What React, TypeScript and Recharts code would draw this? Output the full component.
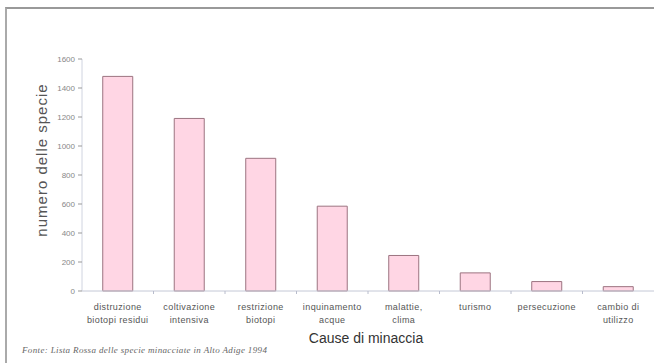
import React from 'react';
import { BarChart, Bar, XAxis, YAxis } from 'recharts';

const categories = [
  'distruzione\nbiotopi residui',
  'coltivazione\nintensiva',
  'restrizione\nbiotopi',
  'inquinamento\nacque',
  'malattie,\nclima',
  'turismo',
  'persecuzione',
  'cambio di\nutilizzo',
];
const specie = [1480, 1190, 915, 585, 245, 125, 65, 30];
const yTicks = [0, 200, 400, 600, 800, 1000, 1200, 1400, 1600];

const data = categories.map((name, i) => ({ name, value: specie[i] }));

const FONT = '"Liberation Sans", Arial, sans-serif';

function CategoryTick(props: any) {
  const { x, y, payload } = props;
  const lines = String(payload.value).split('\n');
  const half = payload.offset || 0;
  return (
    <g>
      {payload.index > 0 && (
        <line x1={x - half} x2={x - half} y1={y} y2={y + 3} stroke="#b8bccc" />
      )}
      <text
        x={x}
        y={y + 19}
        textAnchor="middle"
        fill="#555"
        fontSize={9}
        fontFamily={FONT}
        letterSpacing={0.4}
      >
        {lines.map((l, i) => (
          <tspan key={i} x={x} dy={i === 0 ? 0 : 13}>
            {l}
          </tspan>
        ))}
      </text>
    </g>
  );
}

export default function App() {
  return (
    <div style={{ position: 'absolute', left: 0, top: 0, width: 654, height: 363, background: '#fff' }}>
      <div
        style={{
          position: 'absolute',
          left: 5,
          top: 7,
          width: 660,
          height: 370,
          borderTop: '2px solid #999',
          borderLeft: '2px solid #aaa',
        }}
      />
      <BarChart
        width={654}
        height={363}
        data={data}
        margin={{ top: 59, right: 0, bottom: 0, left: 0 }}
        barCategoryGap="29%"
      >
        <XAxis
          dataKey="name"
          height={72}
          axisLine={{ stroke: '#c4c8d6' }}
          tickLine={false}
          tickSize={0}
          tickMargin={0}
          interval={0}
          tick={<CategoryTick />}
          label={{
            value: 'Cause di minaccia',
            position: 'center',
            dx: -2,
            dy: 11,
            fill: '#333',
            fontSize: 14,
            fontFamily: FONT,
          }}
        />
        <YAxis
          width={82}
          domain={[0, 1600]}
          ticks={yTicks}
          interval={0}
          axisLine={{ stroke: '#d0d4e0' }}
          tickLine={{ stroke: '#999' }}
          tickSize={4}
          tickMargin={3}
          tick={{ fill: '#888', fontSize: 8, fontFamily: FONT }}
          label={{
            value: 'numero delle specie',
            angle: -90,
            position: 'center',
            dx: 1,
            dy: -15,
            fill: '#555',
            fontSize: 15,
            letterSpacing: 1,
            fontFamily: FONT,
          }}
        />
        <Bar dataKey="value" fill="#ffd6e4" stroke="#9c7480" strokeWidth={1} isAnimationActive={false} />
      </BarChart>
      <div
        style={{
          position: 'absolute',
          left: 22,
          top: 345,
          fontFamily: '"Liberation Serif", "Times New Roman", serif',
          fontStyle: 'italic',
          fontSize: 9,
          letterSpacing: 0.35,
          color: '#666',
          whiteSpace: 'nowrap',
        }}
      >
        Fonte: Lista Rossa delle specie minacciate in Alto Adige 1994
      </div>
    </div>
  );
}
